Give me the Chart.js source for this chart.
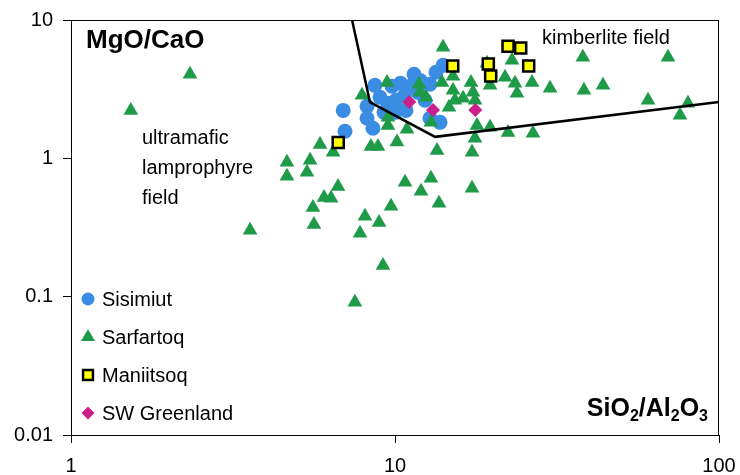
<!DOCTYPE html>
<html>
<head>
<meta charset="utf-8">
<script src="https://cdn.jsdelivr.net/npm/chart.js@4.4.1/dist/chart.umd.min.js"></script>
<style>
  body { margin: 0; background: #fff; }
  #wrap { width: 740px; height: 475px; }
</style>
</head>
<body>
<div id="wrap"><canvas id="mgoChart" width="740" height="475"></canvas></div>
<script>
// axis ticks
const xTicks = [1, 10, 100];
const yTicks = [0.01, 0.1, 1, 10];

// SiO2/Al2O3 (x) and MgO/CaO (y)
const sisimiutX = [6.92, 7.01, 8.20, 8.20, 8.55, 8.67, 8.99, 9.25, 9.79, 10.07, 10.4, 10.66, 11.13,
                   11.45, 11.78, 12.38, 12.82, 13.38, 14.07, 13.77, 12.82, 10.81, 11.95, 9.51, 10.0];
const sisimiutY = [2.22, 1.57, 2.38, 1.95, 1.65, 3.37, 2.76, 2.15, 3.32, 2.63, 3.49, 2.81, 3.32,
                   4.05, 3.0, 2.63, 3.43, 4.19, 4.70, 1.82, 1.95, 2.22, 3.66, 2.5, 2.15];

const sarfartoqX = [1.53, 2.33, 3.57, 4.64, 4.64, 5.47, 5.35, 5.87, 6.44, 6.67, 6.04, 6.35, 5.58, 5.62,
                    7.80, 7.52, 9.18, 8.08, 8.93, 9.72, 10.74, 12.91, 12.03, 13.67, 17.29,
                    8.43, 8.86, 10.14, 13.48, 17.29, 17.66, 9.51, 9.51, 10.89, 12.91, 17.91, 19.65, 22.33, 26.66,
                    7.91, 9.45, 11.86, 12.47, 14.07, 13.96, 15.1, 15.31, 16.22, 17.16, 17.41, 17.66, 14.68,
                    19.23, 19.65, 21.86, 22.97, 23.46, 23.8, 26.48, 30.1, 38.0, 38.3, 43.85, 69.6, 60.4,
                    80.2, 75.8, 15.1, 11.95];
const sarfartoqY = [2.22, 4.05, 0.302, 0.936, 0.741, 0.967, 0.792, 1.26, 1.105, 0.627, 0.522, 0.514, 0.442, 0.333,
                    0.287, 0.091, 0.168, 0.381, 0.344, 0.450, 0.671, 0.717, 0.577, 0.473, 0.607,
                    1.22, 1.22, 1.31, 1.14, 1.105, 1.395, 1.73, 1.98, 1.62, 1.82, 1.73, 1.675, 1.54, 1.52,
                    2.855, 3.54, 3.43, 2.76, 6.35, 3.54, 3.10, 2.63, 2.72, 3.54, 3.0, 2.63, 2.34,
                    4.86, 3.37, 3.85, 5.11, 3.49, 2.95, 3.54, 3.21, 5.37, 3.10, 3.37, 5.37, 2.63,
                    2.5, 2.05, 3.92, 3.0];

const maniitsoqX = [6.68, 15.07, 19.41, 19.74, 22.33, 24.43, 25.86];
const maniitsoqY = [1.30, 4.65, 4.81, 3.94, 6.45, 6.27, 4.65];

const swGreenlandX = [11.07, 13.1, 17.7];
const swGreenlandY = [2.55, 2.24, 2.24];

// kimberlite / ultramafic lamprophyre field boundary
const boundaryX = [7.37, 8.37, 13.3, 100];
const boundaryY = [10, 2.55, 1.43, 2.55];

const FONT = 'Arial, "Liberation Sans", Helvetica, sans-serif';

function toPoints(xs, ys) {
    return xs.map((x, i) => ({ x: x, y: ys[i] }));
}

// draws the frame, labels and the legend box inside the plot
const decorations = {
    id: 'decorations',
    afterDatasetsDraw(chart) {
        const ctx = chart.ctx;
        const area = chart.chartArea;
        ctx.save();
        ctx.strokeStyle = '#000';
        ctx.lineWidth = 1;
        ctx.strokeRect(area.left + 0.5, area.top + 0.5, area.right - area.left - 1, area.bottom - area.top);

        ctx.fillStyle = '#000';
        ctx.textBaseline = 'alphabetic';
        ctx.font = 'bold 26px ' + FONT;
        ctx.fillText('MgO/CaO', area.left + 15, area.top + 28);

        ctx.font = '20px ' + FONT;
        ctx.fillText('kimberlite field', 542, 44);
        ctx.fillText('ultramafic', 142, 144);
        ctx.fillText('lamprophyre', 142, 174);
        ctx.fillText('field', 142, 204);

        // SiO2/Al2O3 with subscripts, right aligned
        const parts = [['SiO', 0], ['2', 1], ['/Al', 0], ['2', 1], ['O', 0], ['3', 1]];
        const mainFont = 'bold 25px ' + FONT;
        const subFont = 'bold 16px ' + FONT;
        let total = 0;
        parts.forEach(p => {
            ctx.font = p[1] ? subFont : mainFont;
            total += ctx.measureText(p[0]).width;
        });
        let x = area.right - 11 - total;
        parts.forEach(p => {
            ctx.font = p[1] ? subFont : mainFont;
            ctx.fillText(p[0], x, p[1] ? 421 : 416);
            x += ctx.measureText(p[0]).width;
        });

        // legend
        const rows = chart.data.datasets.filter(d => d.legendRow !== undefined)
            .sort((a, b) => a.legendRow - b.legendRow);
        ctx.font = '20px ' + FONT;
        ctx.textBaseline = 'middle';
        rows.forEach((d, i) => {
            const y = 299 + i * 38;
            ctx.fillStyle = d.pointBackgroundColor;
            ctx.strokeStyle = d.pointBorderColor || '#000';
            ctx.lineWidth = d.pointBorderWidth;
            Chart.helpers.drawPoint(ctx, {
                pointStyle: d.pointStyle,
                radius: d.legendRadius,
                rotation: 0,
                borderWidth: d.pointBorderWidth
            }, area.left + 17, y);
            ctx.fillStyle = '#000';
            ctx.fillText(d.label, area.left + 31, y + 1);
        });
        ctx.restore();
    }
};

const canvas = document.getElementById('mgoChart');

new Chart(canvas.getContext('2d'), {
    type: 'scatter',
    data: {
        datasets: [
            {
                type: 'line',
                label: 'boundary',
                data: toPoints(boundaryX, boundaryY),
                borderColor: '#000',
                borderWidth: 2.5,
                pointRadius: 0,
                fill: false,
                tension: 0,
                order: 0
            },
            {
                label: 'Maniitsoq',
                data: toPoints(maniitsoqX, maniitsoqY),
                pointStyle: 'rect',
                pointRadius: 7.8,
                legendRadius: 7,
                pointBackgroundColor: '#ffff00',
                pointBorderColor: '#000',
                pointBorderWidth: 2.5,
                legendRow: 2,
                order: 1
            },
            {
                label: 'SW Greenland',
                data: toPoints(swGreenlandX, swGreenlandY),
                pointStyle: 'rectRot',
                pointRadius: 7,
                legendRadius: 6.5,
                pointBackgroundColor: '#cc1f8a',
                pointBorderWidth: 0,
                legendRow: 3,
                order: 2
            },
            {
                label: 'Sarfartoq',
                data: toPoints(sarfartoqX, sarfartoqY),
                pointStyle: 'triangle',
                pointRadius: 8.5,
                legendRadius: 8,
                pointBackgroundColor: '#1f9a48',
                pointBorderWidth: 0,
                legendRow: 1,
                order: 3
            },
            {
                label: 'Sisimiut',
                data: toPoints(sisimiutX, sisimiutY),
                pointStyle: 'circle',
                pointRadius: 7.5,
                legendRadius: 6.5,
                pointBackgroundColor: '#3b8de4',
                pointBorderWidth: 0,
                legendRow: 0,
                order: 4
            }
        ]
    },
    options: {
        responsive: false,
        animation: false,
        events: [],
        layout: { padding: { top: 20, right: 21, left: 0, bottom: 0 } },
        scales: {
            x: {
                type: 'logarithmic',
                min: 1,
                max: 100,
                afterBuildTicks: axis => { axis.ticks = xTicks.map(v => ({ value: v })); },
                afterFit: axis => {
                    axis.height = 40;
                    axis.paddingLeft = 0;
                    axis.paddingRight = 0;
                },
                ticks: {
                    callback: v => String(v),
                    color: '#000',
                    font: { family: FONT, size: 20 },
                    padding: 11,
                    maxRotation: 0,
                    autoSkip: false
                },
                grid: { drawOnChartArea: false, drawTicks: true, tickLength: 8, color: '#000' },
                border: { color: '#000', width: 1 }
            },
            y: {
                type: 'logarithmic',
                min: 0.01,
                max: 10,
                afterBuildTicks: axis => { axis.ticks = yTicks.map(v => ({ value: v })); },
                afterFit: axis => {
                    axis.width = 71;
                    axis.paddingTop = 0;
                    axis.paddingBottom = 0;
                },
                ticks: {
                    callback: v => String(v),
                    color: '#000',
                    font: { family: FONT, size: 20 },
                    padding: 10,
                    autoSkip: false
                },
                grid: { drawOnChartArea: false, drawTicks: true, tickLength: 8, color: '#000' },
                border: { color: '#000', width: 1 }
            }
        },
        plugins: {
            legend: { display: false },
            tooltip: { enabled: false }
        }
    },
    plugins: [decorations]
});
</script>
</body>
</html>
